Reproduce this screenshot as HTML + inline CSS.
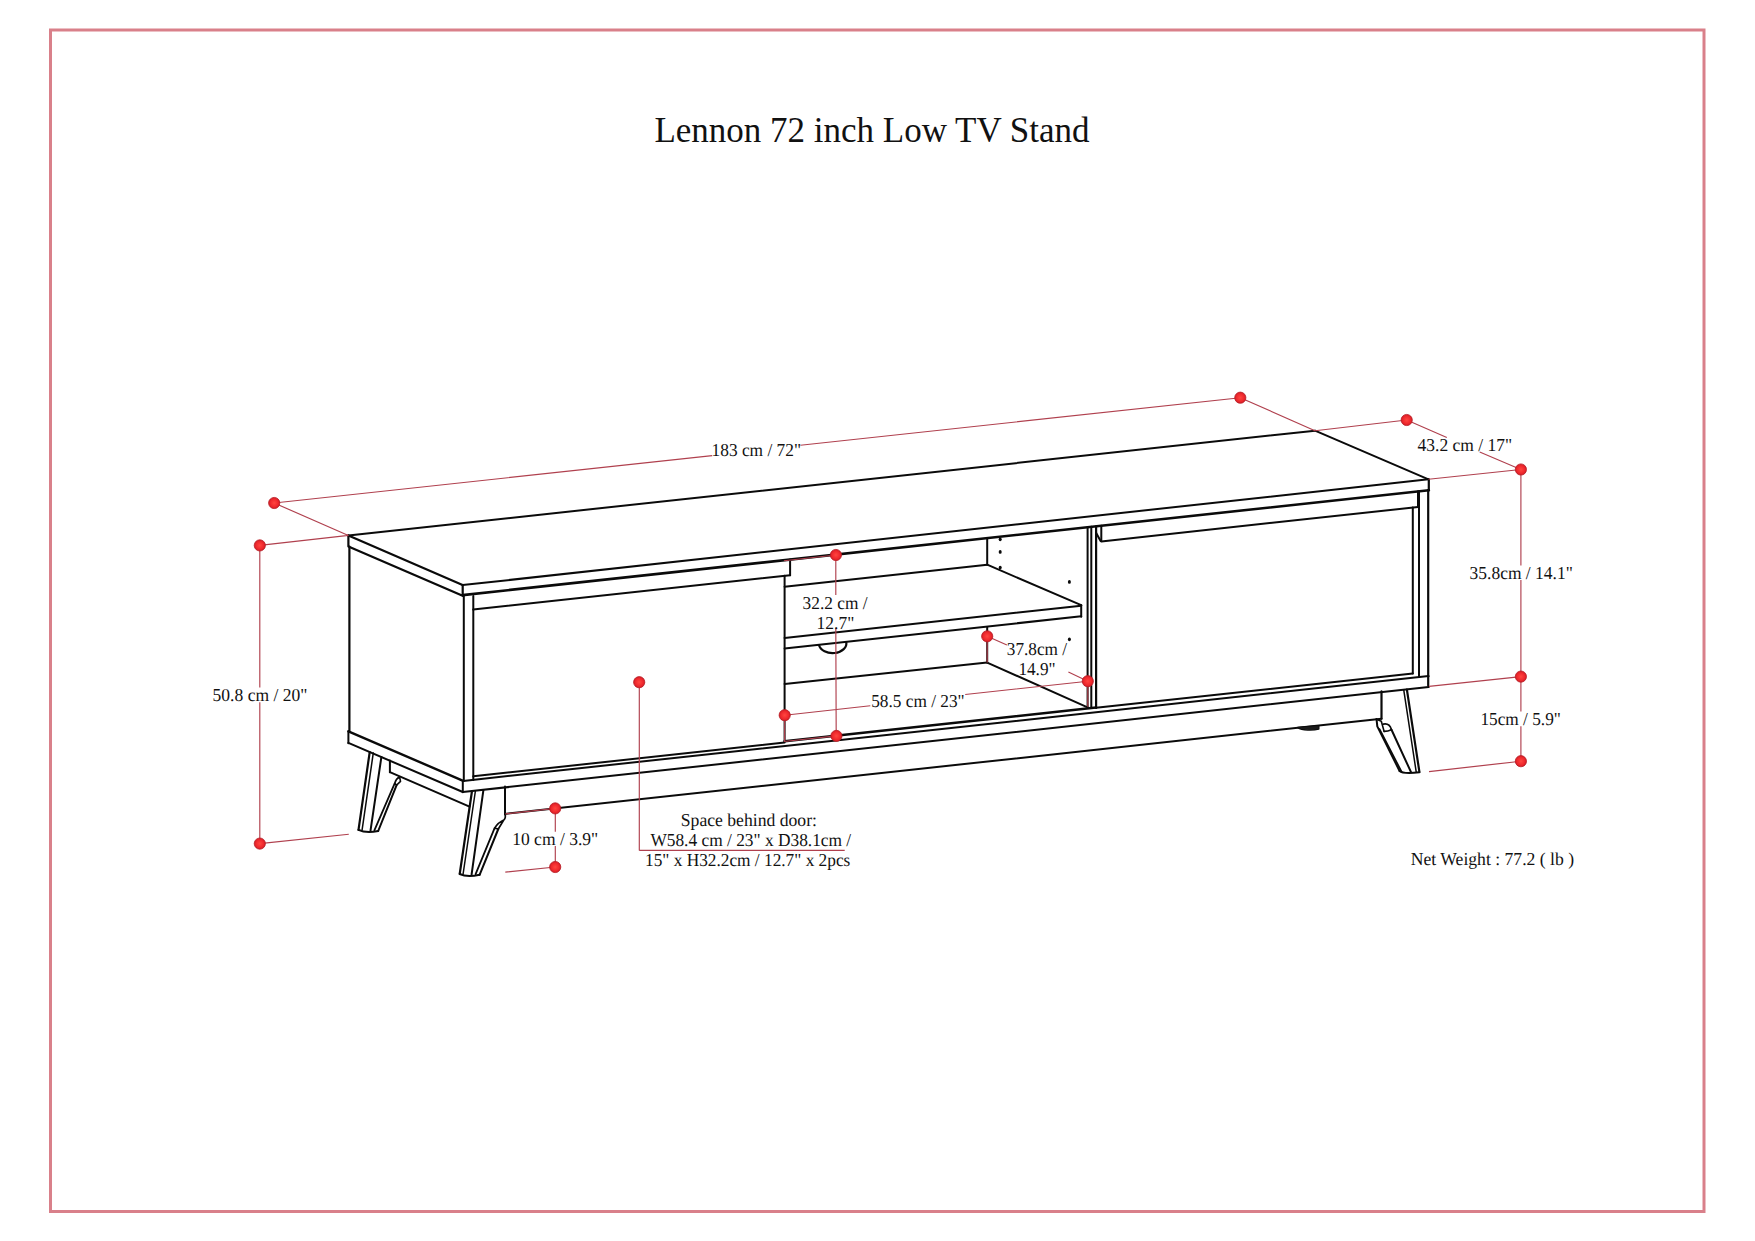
<!DOCTYPE html>
<html><head><meta charset="utf-8"><title>Lennon 72 inch Low TV Stand</title>
<style>
html,body{margin:0;padding:0;background:#fff;}
body{width:1755px;height:1241px;overflow:hidden;position:relative;font-family:"Liberation Serif",serif;}
svg{position:absolute;left:0;top:0;}
.t{font-family:"Liberation Serif",serif;font-size:18.2px;fill:#111;text-rendering:geometricPrecision;}
</style></head><body>
<svg width="1755" height="1241" viewBox="0 0 1755 1241">
<rect x="50.5" y="30" width="1653.5" height="1181.5" fill="none" stroke="#d9808a" stroke-width="3"/>
<text x="872" y="142.4" text-anchor="middle" style="font-family:'Liberation Serif',serif;font-size:35px;fill:#111">Lennon 72 inch Low TV Stand</text>
<g fill="none" stroke="#0a0a0a" stroke-linecap="round" stroke-linejoin="round">
<path d="M348.4 535.5L1315.0 430.7" stroke-width="2.0"/>
<path d="M348.4 535.5L462.6 585.1" stroke-width="2.2"/>
<path d="M1315.0 430.7L1428.5 479.3" stroke-width="2.0"/>
<path d="M462.6 585.1L1428.5 479.3" stroke-width="2.0"/>
<path d="M462.6 595.1L1428.9 490.2" stroke-width="2.6"/>
<path d="M348.4 535.5L348.4 546.5" stroke-width="2.2"/>
<path d="M349.0 546.8L463.2 596.0" stroke-width="2.2"/>
<path d="M462.7 585.1L462.7 595.1" stroke-width="2.2"/>
<path d="M463.8 595.1L463.8 781.0" stroke-width="2.0"/>
<path d="M462.8 781.0L462.8 792.2" stroke-width="2.0"/>
<path d="M1428.8 479.3L1428.8 490.4" stroke-width="2.2"/>
<path d="M1428.2 490.2L1428.2 685.6" stroke-width="2.2"/>
<path d="M349.4 546.5L349.4 732.0" stroke-width="2.2"/>
<path d="M348.4 731.4L463.2 780.8" stroke-width="2.4"/>
<path d="M348.4 742.9L462.8 792.0" stroke-width="2.0"/>
<path d="M348.4 731.0L348.4 743.2" stroke-width="2.0"/>
<path d="M473.3 595.9L473.3 780.0" stroke-width="2.0"/>
<path d="M473.2 609.6L790.1 575.2" stroke-width="2.0"/>
<path d="M790.1 559.5L790.1 575.2" stroke-width="2.0"/>
<path d="M784.6 575.8L784.6 741.5" stroke-width="2.0"/>
<path d="M473.3 776.3L784.6 742.5" stroke-width="2.0"/>
<path d="M784.6 586.7L987.2 564.7" stroke-width="2.0"/>
<path d="M987.2 538.1L987.2 564.7" stroke-width="2.0"/>
<path d="M987.2 564.7L1081.2 605.2" stroke-width="2.0"/>
<path d="M784.6 637.9L1081.2 605.7" stroke-width="2.0"/>
<path d="M784.6 648.5L1081.2 616.3" stroke-width="2.0"/>
<path d="M1081.2 605.2L1081.2 616.8" stroke-width="2.0"/>
<path d="M819.0 645.0 A13.6 9.5 0 0 0 846.2 642.0" stroke-width="2.2"/>
<path d="M987.2 627.5L987.2 662.6" stroke-width="2.0"/>
<path d="M784.6 683.9L987.2 662.6" stroke-width="2.0"/>
<path d="M987.2 662.6L1087.6 707.4" stroke-width="2.0"/>
<path d="M784.6 741.3L1096.1 707.5" stroke-width="2.6"/>
<path d="M1087.6 527.2L1087.6 706.9" stroke-width="2.0"/>
<path d="M1091.3 526.8L1091.3 706.9" stroke-width="2.0"/>
<path d="M1096.1 526.3L1096.1 708.0" stroke-width="2.2"/>
<path d="M1101.3 525.7L1101.3 541.1" stroke-width="2.0"/>
<path d="M1096.2 533.0L1100.6 541.0" stroke-width="2.0"/>
<path d="M1101.3 541.4L1418.0 507.0" stroke-width="2.0"/>
<path d="M1418.0 491.3L1418.0 507.0" stroke-width="2.0"/>
<path d="M1412.8 507.6L1412.8 673.4" stroke-width="2.0"/>
<path d="M1419.0 491.2L1419.0 677.1" stroke-width="2.0"/>
<path d="M1096.1 707.8L1412.8 673.4" stroke-width="2.0"/>
<path d="M463.2 780.9L1428.6 676.1" stroke-width="2.0"/>
<path d="M462.8 792.0L1428.6 687.1" stroke-width="2.0"/>
<path d="M505.0 786.6L505.0 814.5" stroke-width="2.0"/>
<path d="M505.0 813.9L1381.5 718.7" stroke-width="2.0"/>
<path d="M1381.5 691.4L1381.5 718.7" stroke-width="2.2"/>
<path d="M389.9 760.6L389.9 772.2" stroke-width="2.0"/>
<path d="M389.9 772.2L469.5 806.7" stroke-width="2.0"/>
<path d="M1297.8 727.6 C1302 730.4 1313 730.6 1318.7 728.9 L1318.7 725.9 Z" stroke-width="1.6"/>
<path d="M369.7 752.1L358.5 829.8" stroke-width="2.2"/>
<path d="M373.3 752.9L362.1 829.8" stroke-width="1.5"/>
<path d="M381.4 756.9L370.5 830.6" stroke-width="2.0"/>
<path d="M394.7 783.4L374.4 830.4" stroke-width="1.8"/>
<path d="M396.6 785.1L378.2 831.0" stroke-width="2.0"/>
<path d="M399.6 776.8 Q396 778.8 394.7 783.4 L396.6 785.1 L400.5 781.4 Z" stroke-width="1.6"/>
<path d="M358.5 829.8 Q366 833.6 378.2 831.0" stroke-width="2.0"/>
<path d="M472.0 791.0L459.7 874.0" stroke-width="2.2"/>
<path d="M475.4 791.0L463.1 874.0" stroke-width="1.5"/>
<path d="M483.4 790.2L471.6 874.4" stroke-width="2.0"/>
<path d="M494.6 828.1L475.6 874.2" stroke-width="1.8"/>
<path d="M498.3 829.0L479.6 874.8" stroke-width="2.0"/>
<path d="M505.3 814.0 L505.3 817.2 Q505 819 504.2 819.7 Q498 822.5 494.6 828.1 L498.3 829.0 L503.3 820.8" stroke-width="1.7"/>
<path d="M459.7 874.0 Q467 877.6 479.6 874.8" stroke-width="2.0"/>
<path d="M1406.9 689.7L1419.4 771.9" stroke-width="2.2"/>
<path d="M1403.7 689.7L1416.2 771.9" stroke-width="1.5"/>
<path d="M1376.5 718.9 L1377.3 726.4 L1399.6 771.0" stroke-width="2.0"/>
<path d="M1379.6 729.0L1401.7 771.9" stroke-width="1.6"/>
<path d="M1376.5 719.3 L1381.3 721.3 L1384.1 731.4" stroke-width="1.6"/>
<path d="M1383.3 724.1 Q1389.5 722.8 1391.4 729.5" stroke-width="1.6"/>
<path d="M1384.1 731.4 Q1388 731.2 1391.4 729.7" stroke-width="1.6"/>
<path d="M1391.4 729.5L1410.9 771.9" stroke-width="2.0"/>
<path d="M1399.6 771.0 Q1403 774.2 1419.4 772.3" stroke-width="2.0"/>
</g>
<g fill="#0a0a0a">
<path d="M1297.8 727.6 C1302 730.4 1313 730.6 1318.7 728.9 L1318.7 725.9 Z" fill="#1a1a1a"/>
<ellipse cx="1000.2" cy="539.3" rx="1.5" ry="1.9"/>
<ellipse cx="1000.2" cy="551.9" rx="1.5" ry="1.9"/>
<ellipse cx="1000.2" cy="567.6" rx="1.5" ry="1.9"/>
<ellipse cx="1069.4" cy="581.9" rx="1.5" ry="1.9"/>
<ellipse cx="1069.4" cy="639.3" rx="1.5" ry="1.9"/>
</g>
<g fill="none" stroke="#b0404e" stroke-width="1.15">
<path d="M274.2 503.0L712.2 455.6M800.4 445.2L1240.3 397.7M274.2 503.0L348.4 535.5M259.8 545.4L348.6 535.4M259.8 545.4L259.8 687.5M259.8 702.3L259.8 843.6M259.8 843.6L348.8 834.3M1240.3 397.7L1315.0 430.7M1315.0 430.7L1406.7 420.0M1406.7 420.0L1446.8 437.5M1479.7 452.0L1520.8 469.5M1428.5 479.3L1520.8 469.5M1520.9 469.5L1520.9 565.6M1520.9 580.0L1520.9 711.5M1520.9 726.2L1520.9 761.2M1429.0 686.4L1520.9 676.6M1429.0 771.6L1520.9 761.2M835.9 555.0L783.9 560.8M835.8 555.0L835.8 595.0M835.8 628.3L836.2 735.9M836.4 735.9L783.8 741.5M784.7 715.2L870.3 705.8M965.2 694.5L1087.8 681.2M784.7 715.2L784.6 741.5M987.2 636.3L1006.9 645.0M1068.4 672.1L1087.8 681.2M987.2 636.3L987.2 662.6M1087.8 681.2L1087.8 706.8M639.3 682.6L639.3 850.4M639.3 850.4L844.7 850.4M555.2 808.4L505.5 813.9M555.3 808.4L555.3 831.7M555.3 845.9L555.3 867.0M555.2 867.0L505.3 872.1"/>
</g>
<defs><radialGradient id="dg" cx="0.5" cy="0.5" r="0.5"><stop offset="0" stop-color="#ff4640"/><stop offset="0.65" stop-color="#f02a2e"/><stop offset="1" stop-color="#d41e26"/></radialGradient></defs>
<g fill="url(#dg)" stroke="#b81c24" stroke-width="0.8">
<circle cx="274.2" cy="503.0" r="5.6"/>
<circle cx="1240.3" cy="397.7" r="5.6"/>
<circle cx="259.8" cy="545.4" r="5.6"/>
<circle cx="259.8" cy="843.6" r="5.6"/>
<circle cx="1406.7" cy="420.0" r="5.6"/>
<circle cx="1520.9" cy="469.5" r="5.6"/>
<circle cx="1520.9" cy="676.6" r="5.6"/>
<circle cx="1520.9" cy="761.2" r="5.6"/>
<circle cx="835.9" cy="555.0" r="5.6"/>
<circle cx="836.4" cy="735.9" r="5.6"/>
<circle cx="639.2" cy="682.2" r="5.6"/>
<circle cx="784.7" cy="715.2" r="5.6"/>
<circle cx="987.2" cy="636.3" r="5.6"/>
<circle cx="1087.8" cy="681.2" r="5.6"/>
<circle cx="555.2" cy="808.4" r="5.6"/>
<circle cx="555.2" cy="867.0" r="5.6"/>
</g>
<text class="t" x="711.60" y="455.9" textLength="89.38" lengthAdjust="spacingAndGlyphs">183 cm / 72&quot;</text>
<text class="t" x="1417.60" y="450.7" textLength="94.51" lengthAdjust="spacingAndGlyphs">43.2 cm / 17&quot;</text>
<text class="t" x="1469.60" y="578.9" textLength="103.20" lengthAdjust="spacingAndGlyphs">35.8cm / 14.1&quot;</text>
<text class="t" x="1480.40" y="724.9" textLength="80.48" lengthAdjust="spacingAndGlyphs">15cm / 5.9&quot;</text>
<text class="t" x="212.60" y="700.7" textLength="94.77" lengthAdjust="spacingAndGlyphs">50.8 cm / 20&quot;</text>
<text class="t" x="512.20" y="844.5" textLength="86.05" lengthAdjust="spacingAndGlyphs">10 cm / 3.9&quot;</text>
<text class="t" x="802.60" y="608.7" textLength="64.89" lengthAdjust="spacingAndGlyphs">32.2 cm /</text>
<text class="t" x="816.60" y="628.6" textLength="37.74" lengthAdjust="spacingAndGlyphs">12.7&quot;</text>
<text class="t" x="1006.80" y="654.9" textLength="60.22" lengthAdjust="spacingAndGlyphs">37.8cm /</text>
<text class="t" x="1018.40" y="674.6" textLength="37.19" lengthAdjust="spacingAndGlyphs">14.9&quot;</text>
<text class="t" x="871.20" y="706.7" textLength="93.44" lengthAdjust="spacingAndGlyphs">58.5 cm / 23&quot;</text>
<text class="t" x="680.80" y="825.8" textLength="136.12" lengthAdjust="spacingAndGlyphs">Space behind door:</text>
<text class="t" x="650.40" y="846.0" textLength="200.78" lengthAdjust="spacingAndGlyphs">W58.4 cm / 23&quot; x D38.1cm /</text>
<text class="t" x="645.00" y="866.0" textLength="205.31" lengthAdjust="spacingAndGlyphs">15&quot; x H32.2cm / 12.7&quot; x 2pcs</text>
<text class="t" x="1410.80" y="864.9" textLength="163.29" lengthAdjust="spacingAndGlyphs">Net Weight : 77.2 ( lb )</text>
</svg>
</body></html>
